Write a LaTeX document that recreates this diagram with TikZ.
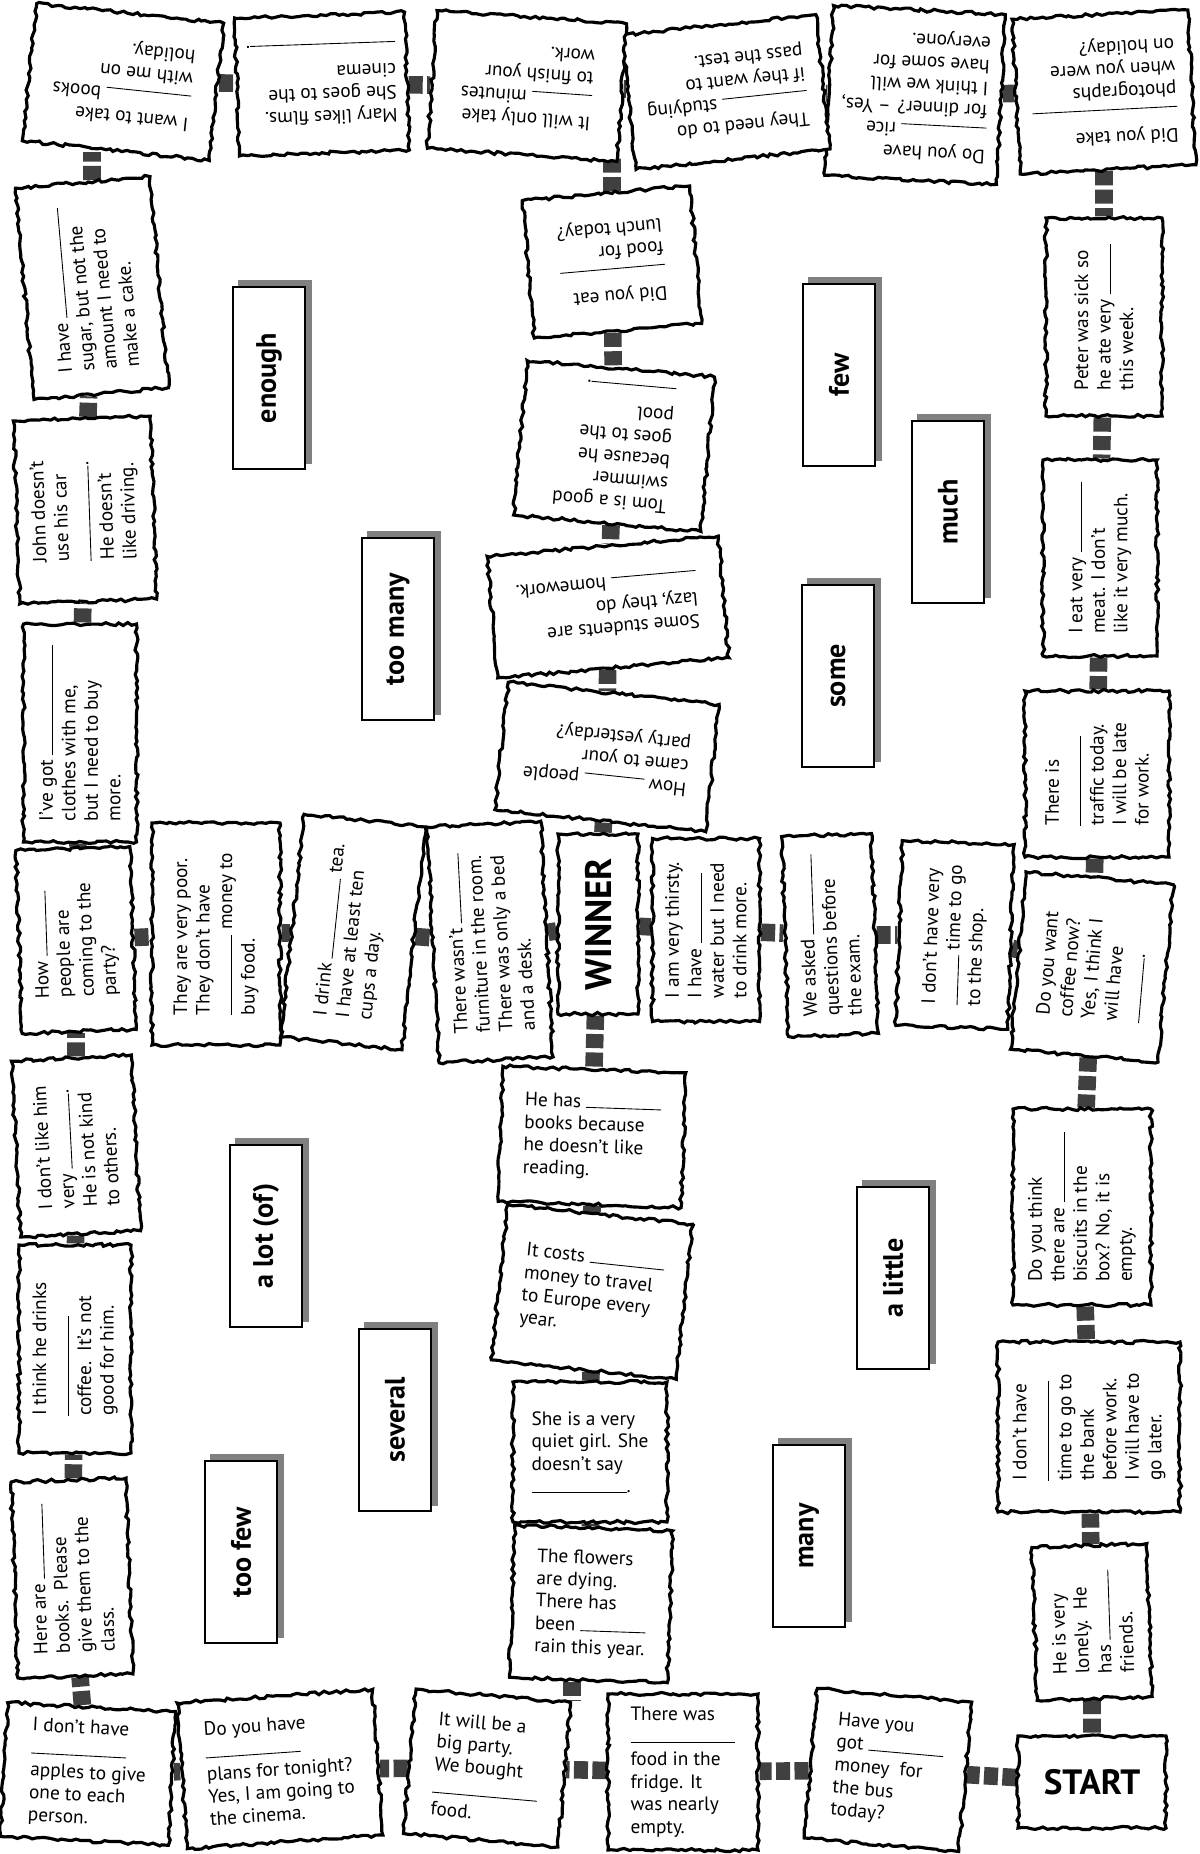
\documentclass[tikz,border=0pt]{standalone}
\usepackage{fontspec}
\setmainfont{PT Sans}
\usepackage{tikz}
\usetikzlibrary{decorations.pathmorphing,backgrounds}

\newcommand{\fillin}[1][1.6cm]{\rule{#1}{0.5pt}}

\begin{document}
\pgfmathsetseed{7}
\begin{tikzpicture}[x=0.02cm, y=-0.02cm,
    tile/.style={draw, line width=1.8pt, fill=white, align=left, inner sep=3pt,
        font=\fontsize{11}{12.8}\selectfont,
        decorate, decoration={random steps, segment length=2.5pt, amplitude=0.9pt}},
    sz/.style 2 args={minimum width=#1*0.02cm, minimum height=#2*0.02cm},
    word/.style={draw, line width=1.6pt, fill=white, sz={182}{72}, rotate=90,
        font=\fontsize{16}{18}\selectfont\bfseries},
    wordshadow/.style={fill=black!50},
    link/.style={line width=10pt, draw=black!75, dash pattern=on 8pt off 2.5pt}]

    \useasboundingbox (0,0) rectangle (1200,1854);

    % Bottom row
    \node[tile, sz={168}{134}, rotate=-3] (apples) at (88,1774) {I don't have\\ \fillin[1.9cm]\\ apples to give\\ one to each\\ person.};
    \node[tile, sz={196}{146}, rotate=4] (plans) at (280,1769) {Do you have\\ \fillin[1.9cm]\\ plans for tonight?\\ Yes, I am going to\\ the cinema.};
    \node[tile, sz={155}{145}, rotate=-5] (party) at (487,1768) {It will be a\\ big party.\\ We bought\\ \fillin[2.1cm]\\ food.};
    \node[tile, sz={150}{156}] (therewas) at (683,1772) {There was\\ \fillin[2.1cm]\\ food in the\\ fridge. It\\ was nearly\\ empty.};
    \node[tile, sz={155}{150}, rotate=-5] (busmoney) at (888,1770) {Have you\\ got \fillin[1.5cm]\\ money\ \ for\\ the bus\\ today?};
    \node[tile, sz={148}{92}, font=\fontsize{20}{22}\selectfont\bfseries] (start) at (1092,1782) {START};

    % Right column
    \node[tile, sz={153}{115}, rotate=92] (lonely) at (1092,1622) {He is very\\ lonely.\ \ He\\ has \fillin[1.4cm]\\ friends.};
    \node[tile, sz={170}{182}, rotate=90] (bank) at (1089,1427) {I don't have\\ \fillin[2cm]\\ time to go to\\ the bank\\ before work.\\ I will have to\\ go later.};
    \node[tile, sz={196}{138}, rotate=90] (biscuits) at (1082,1207) {Do you think\\ there are \fillin[1.4cm]\\ biscuits in the\\ box? No, it is\\ empty.};
    \node[tile, sz={178}{148}, rotate=85] (coffee) at (1092,967) {Do you want\\ coffee now?\\ Yes, I think I\\ will have\\ \fillin[1.3cm].};
    \node[tile, sz={166}{144}, rotate=90] (traffic) at (1097,774) {There is\\ \fillin[1.8cm]\\ traffic today.\\ I will be late\\ for work.};
    \node[tile, sz={196}{114}, rotate=90] (meat) at (1100,558) {I eat very \fillin[1.4cm]\\ meat. I don't\\ like it very much.};
    \node[tile, sz={198}{116}, rotate=90] (peter) at (1104,317) {Peter was sick so\\ he ate very \fillin[1cm]\\ this week.};

    % Top row (upside down)
    \node[tile, sz={176}{155}, rotate=183] (photos) at (1104,92) {Did you take\\ \fillin[2.9cm]\\ photographs\\ when you were\\ on holiday?};
    \node[tile, sz={172}{170}, rotate=177] (rice) at (915,95) {Do you have\\ \fillin[1.7cm] rice\\ for dinner? -- Yes,\\ I think we will\\ have some for\\ everyone.};
    \node[tile, sz={195}{135}, rotate=186] (study) at (726,92) {They need to do\\ \fillin[1.7cm] studying\\ if they want to\\ pass the test.};
    \node[tile, sz={190}{138}, rotate=176] (minutes) at (527,86) {It will only take\\ \fillin[1.2cm] minutes\\ to finish your\\ work.};
    \node[tile, sz={170}{138}, rotate=182] (mary) at (322,84) {Mary likes films.\\ She goes to the\\ cinema\\ \fillin[2.9cm].};
    \node[tile, sz={188}{138}, rotate=174] (takebooks) at (123,82) {I want to take\\ \fillin[1.7cm] books\\ with me on\\ holiday.};

    % Left column
    \node[tile, sz={212}{135}, rotate=95] (sugar) at (92,288) {I have \fillin[2.2cm]\\ sugar, but not the\\ amount I need to\\ make a cake.};
    \node[tile, sz={183}{137}, rotate=92] (john) at (85,510) {John doesn't\\ use his car\\ \fillin[1.9cm].\\ He doesn't\\ like driving.};
    \node[tile, sz={218}{113}, rotate=90] (clothes) at (80,733) {I've got \fillin[2.2cm]\\ clothes with me,\\ but I need to buy\\ more.};
    \node[tile, sz={183}{114}, rotate=92] (coming) at (76,940) {How \fillin[1.3cm]\\ people are\\ coming to the\\ party?};
    \node[tile, sz={176}{120}, rotate=93] (likehim) at (76,1146) {I don't like him\\ very \fillin[1.5cm].\\ He is not kind\\ to others.};
    \node[tile, sz={208}{112}, rotate=90] (drinks) at (75,1349) {I think he drinks\\ \fillin[2cm]\\ coffee.\ \ It's not\\ good for him.};
    \node[tile, sz={196}{115}, rotate=92] (herebooks) at (72,1578) {Here are \fillin[1.5cm]\\ books.\ \ Please\\ give them to the\\ class.};

    % Middle row
    \node[tile, sz={222}{128}, rotate=90] (poor) at (216,934) {They are very poor.\\ They don't have\\ \fillin[1.6cm] money to\\ buy food.};
    \node[tile, sz={224}{122}, rotate=84] (tea) at (353,932) {I drink \fillin[1.6cm] tea.\\ I have at least ten\\ cups a day.};
    \node[tile, sz={236}{114}, rotate=93] (furniture) at (490,942) {There wasn't \fillin[1.4cm]\\ furniture in the room.\\ There was only a bed\\ and a desk.};
    \node[tile, sz={180}{80}, rotate=90, font=\fontsize{21}{22}\selectfont\bfseries] (winner) at (598,924) {WINNER};
    \node[tile, sz={183}{107}, rotate=90] (thirsty) at (706,930) {I am very thirsty.\\ I have \fillin[1.4cm]\\ water but I need\\ to drink more.};
    \node[tile, sz={200}{90}, rotate=92] (asked) at (830,935) {We asked \fillin[1.6cm]\\ questions before\\ the exam.};
    \node[tile, sz={185}{112}, rotate=88] (shop) at (955,935) {I don't have very\\ \fillin[1cm] time to go\\ to the shop.};

    % Centre column
    \node[tile, sz={168}{138}, rotate=185] (eat) at (612,262) {Did you eat\\ \fillin[2.1cm]\\ food for\\ lunch today?};
    \node[tile, sz={188}{155}, rotate=175] (tom) at (614,446) {Tom is a good\\ swimmer\\ because he\\ goes to the\\ pool\\ \fillin[1.7cm].};
    \node[tile, sz={232}{122}, rotate=185] (lazy) at (608,607) {Some students are\\ lazy, they do\\ \fillin[1.7cm] homework.};
    \node[tile, sz={212}{128}, rotate=174] (came) at (607,757) {How \fillin[1.2cm] people\\ came to your\\ party yesterday?};
    \node[tile, sz={183}{135}, rotate=-2] (hasbooks) at (592,1137) {He has \fillin[1.5cm]\\ books because\\ he doesn't like\\ reading.};
    \node[tile, sz={186}{156}, rotate=-6] (costs) at (592,1292) {It costs \fillin[1.5cm]\\ money to travel\\ to Europe every\\ year.};
    \node[tile, sz={154}{140}] (quiet) at (590,1452) {She is a very\\ quiet girl. She\\ doesn't say\\ \fillin[1.9cm].};
    \node[tile, sz={158}{152}, rotate=-2] (flowers) at (591,1604) {The flowers\\ are dying.\\ There has\\ been \fillin[1.3cm]\\ rain this year.};

    % Word boxes
    \node[word] (enough) at (269,378) {enough};
    \node[word] (toomany) at (398,629) {too many};
    \node[word] (few) at (839,375) {few};
    \node[word] (much) at (948,512) {much};
    \node[word] (some) at (838,676) {some};
    \node[word] (alot) at (266,1236) {a lot (of)};
    \node[word] (several) at (395,1420) {several};
    \node[word] (toofew) at (241,1552) {too few};
    \node[word] (alittle) at (893,1278) {a little};
    \node[word] (many) at (809,1536) {many};

    \begin{pgfonlayer}{background}
        % shadows of the word boxes
        \fill[wordshadow] ([shift={(6,-6)}]enough.south west) rectangle ([shift={(6,-6)}]enough.north east);
        \fill[wordshadow] ([shift={(6,-6)}]toomany.south west) rectangle ([shift={(6,-6)}]toomany.north east);
        \fill[wordshadow] ([shift={(6,-6)}]few.south west) rectangle ([shift={(6,-6)}]few.north east);
        \fill[wordshadow] ([shift={(6,-6)}]much.south west) rectangle ([shift={(6,-6)}]much.north east);
        \fill[wordshadow] ([shift={(6,-6)}]some.south west) rectangle ([shift={(6,-6)}]some.north east);
        \fill[wordshadow] ([shift={(6,-6)}]alot.south west) rectangle ([shift={(6,-6)}]alot.north east);
        \fill[wordshadow] ([shift={(6,-6)}]several.south west) rectangle ([shift={(6,-6)}]several.north east);
        \fill[wordshadow] ([shift={(6,-6)}]toofew.south west) rectangle ([shift={(6,-6)}]toofew.north east);
        \fill[wordshadow] ([shift={(6,-6)}]alittle.south west) rectangle ([shift={(6,-6)}]alittle.north east);
        \fill[wordshadow] ([shift={(6,-6)}]many.south west) rectangle ([shift={(6,-6)}]many.north east);

        % Track
        \draw[link] (start) -- (busmoney);
        \draw[link] (busmoney) -- (therewas);
        \draw[link] (therewas) -- (party);
        \draw[link] (party) -- (plans);
        \draw[link] (plans) -- (apples);
        \draw[link] (apples) -- (herebooks);
        \draw[link] (herebooks) -- (drinks);
        \draw[link] (drinks) -- (likehim);
        \draw[link] (likehim) -- (coming);
        \draw[link] (coming) -- (clothes);
        \draw[link] (clothes) -- (john);
        \draw[link] (john) -- (sugar);
        \draw[link] (sugar) -- (sugar |- takebooks.north);
        \draw[link] (takebooks) -- (mary);
        \draw[link] (mary) -- (minutes);
        \draw[link] (minutes) -- (study);
        \draw[link] (study) -- (rice);
        \draw[link] (rice) -- (photos);
        \draw[link] (photos) -- (peter);
        \draw[link] (peter) -- (meat);
        \draw[link] (meat) -- (traffic);
        \draw[link] (traffic) -- (coffee);
        \draw[link] (coffee) -- (biscuits);
        \draw[link] (biscuits) -- (bank);
        \draw[link] (bank) -- (lonely);
        \draw[link] (lonely) -- (start);
        % to the winner
        \draw[link] (coming) -- (poor);
        \draw[link] (poor) -- (tea);
        \draw[link] (tea) -- (furniture);
        \draw[link] (furniture) -- (winner);
        \draw[link] (winner) -- (thirsty);
        \draw[link] (thirsty) -- (asked);
        \draw[link] (asked) -- (shop);
        \draw[link] (shop) -- (coffee);
        \draw[link] (eat) -- (eat |- minutes.north);
        \draw[link] (eat) -- (tom);
        \draw[link] (tom) -- (lazy);
        \draw[link] (lazy) -- (came);
        \draw[link] (came) -- (winner);
        \draw[link] (winner) -- (hasbooks);
        \draw[link] (hasbooks) -- (costs);
        \draw[link] (costs) -- (quiet);
        \draw[link] (quiet) -- (flowers);
        \draw[link] (flowers.south -| party.north east) -- (party.north east);
    \end{pgfonlayer}
\end{tikzpicture}
\end{document}
